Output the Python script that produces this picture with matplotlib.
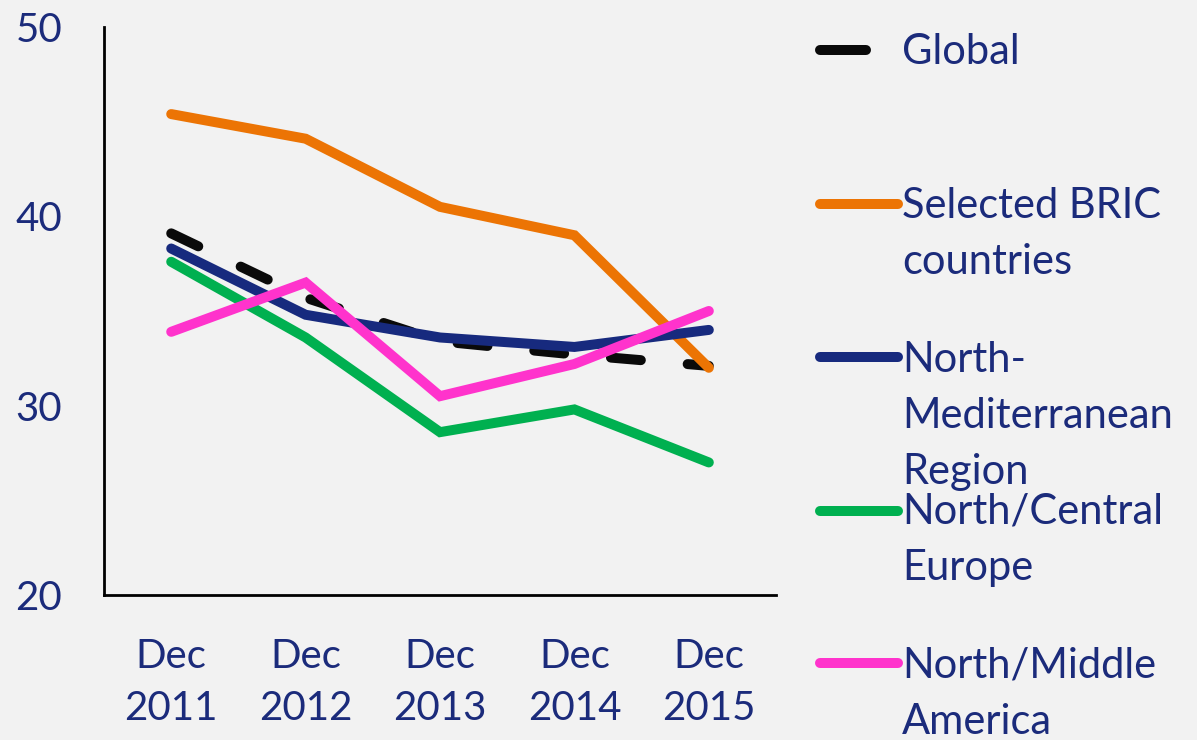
import matplotlib
matplotlib.use("Agg")
import matplotlib.pyplot as plt
from matplotlib.lines import Line2D

# data
periods = ["Dec\n2011", "Dec\n2012", "Dec\n2013", "Dec\n2014", "Dec\n2015"]
global_vals = [39.1, 35.7, 33.4, 32.7, 32.1]
bric_vals = [45.4, 44.1, 40.5, 39.0, 32.0]
north_med_vals = [38.3, 34.8, 33.6, 33.1, 34.0]
north_central_vals = [37.6, 33.6, 28.6, 29.8, 27.0]
north_middle_vals = [33.9, 36.5, 30.5, 32.2, 35.0]

labels = ["Global", "Selected BRIC\ncountries", "North-\nMediterranean\nRegion",
          "North/Central\nEurope", "North/Middle\nAmerica"]
colors = ["#0a0a0a", "#ec7404", "#172a7e", "#00b050", "#ff33cc"]

txt_color = "#1b2b7b"
bg = "#f2f2f2"
fs = 29
plt.rcParams['font.family'] = ['Lato', 'DejaVu Sans']

fig = plt.figure(figsize=(11.97, 7.40), dpi=100, facecolor=bg)
ax = fig.add_axes([0.0869, 0.196, 0.5614, 0.7675])
ax.set_facecolor(bg)

x = range(len(periods))
lw = 7.2
series = [global_vals, bric_vals, north_med_vals, north_central_vals, north_middle_vals]
for i, vals in enumerate(series):
    if i == 0:
        ax.plot(x, vals, color=colors[i], lw=lw, dashes=(3.0, 4.7),
                dash_capstyle="round", solid_capstyle="round", zorder=2)
    else:
        ax.plot(x, vals, color=colors[i], lw=lw, solid_capstyle="round",
                solid_joinstyle="miter", zorder=3)

ax.set_xlim(-0.5, 4.5)
ax.set_ylim(20, 50)
ax.set_yticks([20, 30, 40, 50])
ax.set_xticks(list(x))
ax.set_xticklabels(periods, linespacing=1.5)
ax.tick_params(axis="both", length=0, labelsize=fs, colors=txt_color)
ax.tick_params(axis="y", pad=30)
ax.tick_params(axis="x", pad=31)
for s in ["top", "right"]:
    ax.spines[s].set_visible(False)
for s in ["left", "bottom"]:
    ax.spines[s].set_linewidth(2)
    ax.spines[s].set_color("black")

# legend drawn by hand to match the uneven spacing (pixel rows of the reference)
W, H = 1197.0, 740.0
handle_y = [50, 204, 357, 511, 663]
handle_end = [866, 898, 898, 898, 898]
text_base = [64, 218, 372, 524, 678]
line_gap = 56
for i in range(len(labels)):
    fy = 1 - handle_y[i] / H
    fig.add_artist(Line2D([820 / W, handle_end[i] / W], [fy, fy], color=colors[i], lw=lw,
                          solid_capstyle="round", transform=fig.transFigure))
    for k, part in enumerate(labels[i].split("\n")):
        fig.text(902 / W, 1 - (text_base[i] + k * line_gap) / H, part, color=txt_color,
                 fontsize=30, va="baseline", ha="left")

fig.savefig("out.png", dpi=100, facecolor=bg)
